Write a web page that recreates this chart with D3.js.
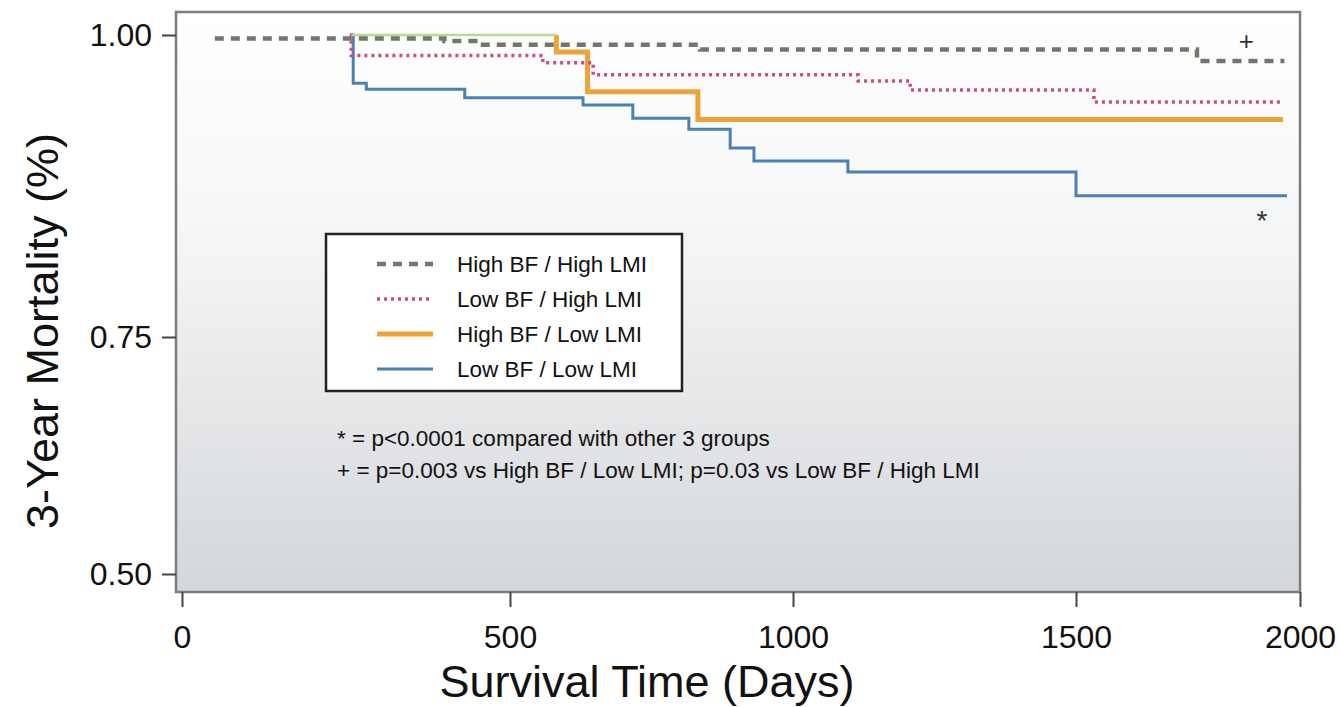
<!DOCTYPE html>
<html>
<head>
<meta charset="utf-8">
<script src="https://cdn.jsdelivr.net/npm/d3@7"></script>
<style>
  html, body { margin: 0; padding: 0; background: #fff; }
  svg { display: block; font-family: "Liberation Sans", Arial, sans-serif; }
</style>
</head>
<body>
<svg id="km" width="1340" height="707"></svg>
<script>
// Kaplan-Meier Kurven (Werte aus der Abbildung geschätzt)
var hhTime = [50, 400, 447, 836, 1770, 1965];
var hhSurv = [0.997, 0.995, 0.992, 0.988, 0.9785, 0.9785];

var lhTime = [256, 258, 558, 647, 1115, 1207, 1540, 1962];
var lhSurv = [1.0, 0.983, 0.977, 0.967, 0.962, 0.9545, 0.9445, 0.9445];

var hlTime = [258, 582, 637, 832, 1962];
var hlSurv = [1.0, 0.986, 0.953, 0.930, 0.930];

var llTime = [256, 261, 281, 431, 629, 717, 816, 889, 931, 1097, 1500, 1971];
var llSurv = [1.0, 0.960, 0.955, 0.948, 0.942, 0.931, 0.922, 0.9065, 0.8957, 0.8866, 0.867, 0.867];

var groupNames = ["High BF / High LMI", "Low BF / High LMI", "High BF / Low LMI", "Low BF / Low LMI"];

var xTicks = [0, 500, 1000, 1500, 2000];
var yTicks = [0.50, 0.75, 1.00];

var notes = [
    "* = p<0.0001 compared with other 3 groups",
    "+ = p=0.003 vs High BF / Low LMI; p=0.03 vs Low BF / High LMI"
];
// Markierungen: [Tag, Wert, Zeichen]
var marks = [[1880, 0.995, "+"], [1915, 0.856, "*"]];

function zip(t, s) {
    return t.map(function (d, i) { return { t: d, s: s[i] }; });
}

var frame = { left: 176, top: 12, right: 1300, bottom: 592 };

// Achsen im Original sind nicht ganz gleichmäßig, daher stückweise linear
var xScale = d3.scaleLinear().domain(xTicks).range([182, 510, 793, 1076, 1300]);
var yScale = d3.scaleLinear().domain(yTicks).range([574, 337, 35]);

var svg = d3.select("#km");

var defs = svg.append("defs");
var grad = defs.append("linearGradient")
    .attr("id", "bg")
    .attr("x1", 0).attr("y1", 0).attr("x2", 0).attr("y2", 1);
grad.append("stop").attr("offset", "0%").attr("stop-color", "#ffffff");
grad.append("stop").attr("offset", "35%").attr("stop-color", "#f6f7f8");
grad.append("stop").attr("offset", "100%").attr("stop-color", "#d4d7da");

// Hintergrund + Rahmen
svg.append("rect")
    .attr("x", frame.left).attr("y", frame.top)
    .attr("width", frame.right - frame.left)
    .attr("height", frame.bottom - frame.top)
    .attr("fill", "url(#bg)")
    .attr("stroke", "#7d7d7d")
    .attr("stroke-width", 2.5);

// x-Achse
var xAxis = svg.append("g")
    .attr("transform", "translate(0," + frame.bottom + ")")
    .call(d3.axisBottom(xScale).tickValues(xTicks).tickSize(15).tickPadding(18).tickFormat(d3.format("d")));
xAxis.select(".domain").remove();
xAxis.selectAll("line").attr("stroke", "#444").attr("stroke-width", 2);
xAxis.selectAll("text").attr("font-size", 32).attr("fill", "#111")
    .attr("font-family", "Liberation Sans, Arial, sans-serif");

// y-Achse
var yAxis = svg.append("g")
    .attr("transform", "translate(" + frame.left + ",0)")
    .call(d3.axisLeft(yScale).tickValues(yTicks).tickSize(14).tickPadding(10).tickFormat(d3.format(".2f")));
yAxis.select(".domain").remove();
yAxis.selectAll("line").attr("stroke", "#444").attr("stroke-width", 2);
yAxis.selectAll("text").attr("font-size", 32).attr("fill", "#111")
    .attr("font-family", "Liberation Sans, Arial, sans-serif");

// Titel
svg.append("text")
    .attr("x", 647).attr("y", 697)
    .attr("text-anchor", "middle")
    .attr("font-size", 45).attr("fill", "#111")
    .text("Survival Time (Days)");

svg.append("text")
    .attr("transform", "translate(58,331) rotate(-90)")
    .attr("text-anchor", "middle")
    .attr("font-size", 45).attr("fill", "#111")
    .text("3-Year Mortality (%)");

var line = d3.line()
    .curve(d3.curveStepAfter)
    .x(function (d) { return xScale(d.t); })
    .y(function (d) { return yScale(d.s); });

var styles = [
    { color: "#75776c", width: 4.5, dash: "9,7" },
    { color: "#d0488a", width: 3.5, dash: "3,4" },
    { color: "#eea338", width: 5, dash: null },
    { color: "#4b80b6", width: 3, dash: null }
];

var series = [zip(hhTime, hhSurv), zip(lhTime, lhSurv), zip(hlTime, hlSurv), zip(llTime, llSurv)];

function drawSeries(i, data) {
    svg.append("path")
        .datum(data || series[i])
        .attr("fill", "none")
        .attr("stroke", styles[i].color)
        .attr("stroke-width", styles[i].width)
        .attr("stroke-dasharray", styles[i].dash)
        .attr("d", line);
}

// orange Kurve: das erste Stück bei 1.00 erscheint im Original dünn und hellgrün
var hl = series[2];
drawSeries(2, [{ t: hl[1].t, s: hl[0].s }].concat(hl.slice(1)));
drawSeries(3);
drawSeries(1);

svg.append("path")
    .datum([hl[0], { t: hl[1].t, s: hl[0].s }])
    .attr("fill", "none")
    .attr("stroke", "#bcd98e")
    .attr("stroke-width", 2.5)
    .attr("d", line);

drawSeries(0);

// Markierungen
svg.selectAll(".mark")
    .data(marks)
    .enter().append("text")
    .attr("class", "mark")
    .attr("x", function (d) { return xScale(d[0]); })
    .attr("y", function (d) { return yScale(d[1]); })
    .attr("dy", function (d) { return d[2] === "*" ? "0.75em" : "0.35em"; })
    .attr("text-anchor", "middle")
    .attr("font-size", function (d) { return d[2] === "*" ? 28 : 26; })
    .attr("fill", "#333")
    .text(function (d) { return d[2]; });

// Legende
var legend = svg.append("g");
legend.append("rect")
    .attr("x", 326).attr("y", 234)
    .attr("width", 356).attr("height", 157)
    .attr("fill", "#fff")
    .attr("stroke", "#222")
    .attr("stroke-width", 2.5);

groupNames.forEach(function (name, i) {
    var y = 264 + i * 35;
    legend.append("line")
        .attr("x1", 377).attr("x2", 433)
        .attr("y1", y).attr("y2", y)
        .attr("stroke", styles[i].color)
        .attr("stroke-width", styles[i].width)
        .attr("stroke-dasharray", styles[i].dash);
    legend.append("text")
        .attr("x", 457).attr("y", y)
        .attr("dy", "0.35em")
        .attr("font-size", 22.5)
        .attr("fill", "#111")
        .text(name);
});

// Fußnoten
notes.forEach(function (n, i) {
    svg.append("text")
        .attr("x", 337).attr("y", 438 + i * 32)
        .attr("dy", "0.35em")
        .attr("font-size", 22.5)
        .attr("fill", "#111")
        .text(n);
});
</script>
</body>
</html>
